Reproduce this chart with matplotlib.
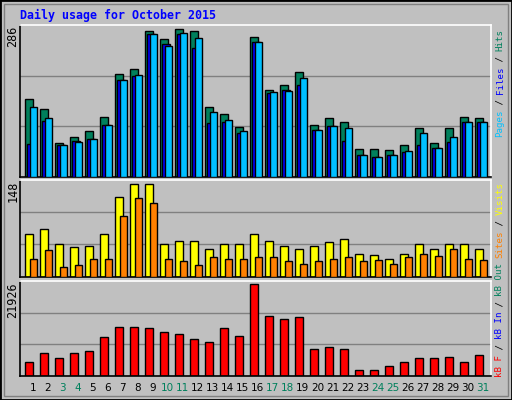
import matplotlib
matplotlib.use("Agg")
import matplotlib.pyplot as plt
from matplotlib.patches import Rectangle
import numpy as np

days = list(range(1, 32))
weekend = [3, 4, 10, 11, 17, 18, 24, 25, 31]
hits = [150, 131, 65, 77, 88, 116, 199, 209, 282, 268, 286, 282, 135, 121, 96, 272, 169, 177, 204, 100, 114, 106, 53, 53, 51, 61, 94, 65, 94, 116, 114]
files = [63, 108, 61, 69, 74, 101, 187, 195, 276, 258, 276, 249, 104, 106, 84, 262, 162, 169, 177, 90, 98, 69, 43, 39, 43, 47, 61, 55, 67, 106, 106]
pages = [136, 113, 61, 67, 74, 101, 187, 197, 276, 254, 278, 270, 126, 111, 88, 262, 165, 167, 191, 90, 98, 94, 43, 39, 43, 49, 84, 55, 78, 106, 106]
visits = [69, 77, 53, 47, 50, 68, 128, 148, 148, 52, 57, 58, 45, 53, 53, 69, 58, 49, 45, 49, 55, 60, 37, 34, 28, 36, 52, 44, 53, 52, 45]
sites = [29, 42, 15, 18, 28, 29, 98, 126, 118, 28, 25, 18, 31, 28, 28, 31, 31, 25, 20, 25, 29, 31, 25, 26, 20, 31, 37, 33, 44, 28, 26]
kbytes = [3201, 5361, 4161, 5361, 5841, 9202, 11603, 11603, 11363, 10402, 9922, 8722, 8002, 11363, 9442, 21926, 14243, 13523, 14003, 6321, 6801, 6321, 1280, 1280, 2240, 3201, 4161, 4161, 4401, 3201, 4881]

W, H = 512, 400
fig = plt.figure(figsize=(5.12, 4.0), dpi=100, facecolor="#C0C0C0")
mono = "DejaVu Sans Mono"

def fx(px): return px / W
def fy(py): return 1 - py / H

# outer border
fig.patches.append(Rectangle((0, 0), 1, 1, transform=fig.transFigure, fill=False, edgecolor="black", lw=2))
fig.patches.append(Rectangle((fx(4), fy(396)), fx(504), fy(4) - fy(396), transform=fig.transFigure,
                             fill=False, edgecolor="#808080", lw=1))

fig.text(fx(20), fy(15), "Daily usage for October 2015", color="#0000FF", fontsize=8.4,
         fontweight="bold", family=mono, va="center", ha="left")

x0, x1 = 20.3, 490.7
panels = [(25, 176.7), (180, 276.7), (281, 375.7)]
axes = []
for (t, b) in panels:
    ax = fig.add_axes([fx(x0), fy(b), fx(x1 - x0), (b - t) / H])
    ax.set_facecolor("#C0C0C0")
    for s in ["left", "bottom"]:
        ax.spines[s].set_color("black")
    for s in ["top", "right"]:
        ax.spines[s].set_color("white")
    for s in ax.spines.values():
        s.set_linewidth(1.2)
    ax.set_xlim(0.17, 31.53)
    ax.set_xticks([]); ax.set_yticks([])
    axes.append(ax)

d = np.array(days)
ec = dict(edgecolor="black", linewidth=1, align="edge", width=0.5)

ax = axes[0]
top = 294.4
ax.set_ylim(0, top)
for g in (top/3, 2*top/3):
    ax.axhline(g, color="#808080", lw=1, zorder=0)
ax.bar(d - 0.5, hits, color="#00805C", **ec, zorder=2)
ax.bar(d - 0.37, files, color="#0000FF", **ec, zorder=3)
ax.bar(d - 0.2, pages, color="#00C0FF", **ec, zorder=4)

ax = axes[1]
top = 155
ax.set_ylim(0, top)
for g in (top/3, 2*top/3):
    ax.axhline(g, color="#808080", lw=1, zorder=0)
ax.bar(d - 0.5, visits, color="#FFFF00", **ec, zorder=2)
ax.bar(d - 0.2, sites, color="#FF8000", **ec, zorder=3)

ax = axes[2]
top = 22726
ax.set_ylim(0, top)
for g in (top/3, 2*top/3):
    ax.axhline(g, color="#808080", lw=1, zorder=0)
ax.bar(d - 0.5, kbytes, color="#FF0000", **ec, zorder=2)

# left max labels
for (t, b), lab in zip(panels, ["286", "148", "21926"]):
    fig.text(fx(13), fy(t + 1), lab, rotation=90, fontsize=8.5, family=mono, ha="center", va="top")

# day labels
for dd in days:
    xp = x0 + (dd - 0.17) / (31.53 - 0.17) * (x1 - x0)
    fig.text(fx(xp), fy(388), str(dd), fontsize=7.5, family="DejaVu Sans",
             color="#00805C" if dd in weekend else "black", ha="center", va="center")

# right multi-colored rotated labels
cw = 5.4
def rlabel(pieces, bottom_px):
    y = bottom_px
    for txt, col in pieces:
        fig.text(fx(500), fy(y), txt, rotation=90, fontsize=6.6, family=mono, color=col,
                 ha="center", va="bottom")
        y -= len(txt) * cw

rlabel([("Pages", "#00C0FF"), (" / ", "black"), ("Files", "#0000FF"), (" / ", "black"), ("Hits", "#00805C")], 137)
rlabel([("Sites", "#FF8000"), (" / ", "black"), ("Visits", "#FFFF00")], 258)
rlabel([("kB F", "#FF0000"), (" / ", "black"), ("kB In", "#0000FF"), (" / ", "black"), ("kB Out", "#00805C")], 377)

fig.savefig("out.png", dpi=100, facecolor=fig.get_facecolor())
